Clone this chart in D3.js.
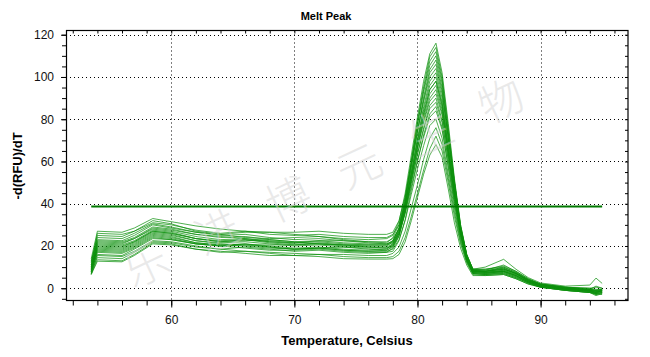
<!DOCTYPE html>
<html><head><meta charset="utf-8">
<script src="https://cdn.jsdelivr.net/npm/d3@7"></script>
<style>
html,body{margin:0;padding:0;background:#fff;}
svg{display:block;font-family:"Liberation Sans",Arial,sans-serif;}
</style></head>
<body><svg id="chart" width="650" height="357"></svg>
<script>
// ---- data ----
const chartTitle = "Melt Peak";
const xTitle = "Temperature, Celsius";
const yTitle = "-d(RFU)/dT";
const xMajorTicks = [60, 70, 80, 90];
const yMajorTicks = [0, 20, 40, 60, 80, 100, 120];
const thresholdValue = 38.7;
const thresholdRange = [53.5, 95];
const watermarkChars = ["乐", "进", "博", "元", "生", "物"];

const temps = [53.5, 54, 56, 57, 58.5, 60, 62, 64, 66, 68, 70, 72, 74, 76, 77.5, 78, 78.5, 79, 79.5, 80, 80.5, 81, 81.5, 82, 82.5, 83, 83.5, 84, 84.5, 85.5, 87, 88, 89, 90, 92, 94, 94.5, 95];

const well01 = [14, 27, 26.5, 28.5, 33, 31.5, 29.5, 28, 27, 26.5, 26.5, 27, 26, 25.5, 25.5, 26.5, 32, 43.5, 59, 74.5, 88.5, 100, 104, 92, 71.5, 50, 29, 16, 9, 9, 10, 7.5, 4, 2, 0.5, -0.5, -1, -0.5];
const well02 = [12, 26, 25.5, 27, 31, 30, 27.5, 26, 27, 25.5, 25, 25.5, 24.5, 24, 24, 25.5, 30, 40, 53.5, 66.5, 78.5, 88.5, 92, 82, 64, 45, 27, 15, 8.5, 8, 9, 7, 3.5, 1.5, 0, -1, -1.5, -1];
const well03 = [11, 25, 24.5, 27, 32, 30.5, 27, 25.5, 26.5, 26.5, 25.5, 24.5, 23.5, 23, 23.5, 25, 31.5, 45, 63, 81, 98, 111, 116, 102, 78, 52, 30, 16, 9, 8.5, 11, 8, 4.5, 2, 0.5, 0, -0.5, -0.5];
const well04 = [13, 24, 23.5, 26, 30.5, 29, 26.5, 25, 25.5, 24, 23, 23.5, 22.5, 22, 22, 23.5, 28, 37.5, 50.5, 63.5, 75, 85, 88, 78.5, 61, 43, 26, 14.5, 8, 7.5, 8.5, 6.5, 3.5, 1.5, 0, -1, -2, -1];
const well05 = [10, 23, 22.5, 25, 30, 28.5, 26.5, 25.5, 24, 23.5, 24, 24.5, 23, 22, 21.5, 24, 30, 43, 60, 77.5, 93, 105.5, 110, 97, 74, 50, 29, 15.5, 8.5, 8, 9.5, 7, 4, 2, 0.5, -0.5, 1, 0];
const well06 = [12.5, 22.5, 22, 24, 29, 28, 25.5, 24, 24.5, 23, 22, 22.5, 21.5, 21, 21, 22.5, 28, 39, 54, 69.5, 83, 94, 98, 87, 66.5, 46, 27, 14.5, 8, 7.5, 8, 6, 3, 1, -0.5, -1, -1.5, -1.5];
const well07 = [9, 22, 21.5, 23.5, 28.5, 27.5, 25.5, 24.5, 23.5, 22, 21.5, 22.5, 22.5, 21.5, 21, 22, 26.5, 35.5, 48, 60.5, 71.5, 81, 84, 75, 58, 41, 25, 14, 8, 8, 9, 7, 3.5, 1.5, 0, -0.5, -1, -1];
const well08 = [11, 21.5, 21, 23.5, 28, 27, 24.5, 23, 23.5, 22.5, 21.5, 22, 21, 20.5, 20.5, 22.5, 28.5, 41, 57.5, 74, 89, 102, 106, 93.5, 71, 48.5, 28, 15, 8.5, 8, 10, 7.5, 4, 1.5, 0, -1, -2.5, -1];
const well09 = [8, 21, 20.5, 22.5, 27.5, 26.5, 23.5, 22, 22.5, 23, 22, 21, 20.5, 20.5, 20.5, 21.5, 27, 39, 54.5, 70, 84.5, 96, 100, 88, 67, 46, 27, 14.5, 8, 7.5, 8.5, 6.5, 3.5, 1.5, 0, -1, -1.5, -2];
const well10 = [10, 20.5, 20, 22, 27, 26, 23.5, 22, 23, 21.5, 20.5, 21, 20, 19.5, 19.5, 21, 26, 37, 51.5, 66, 79.5, 90, 94, 83, 63, 44, 26, 14, 7.5, 7, 8, 6, 3, 1, -0.5, -1.5, -2, -1.5];
const well11 = [9.5, 20, 19.5, 22, 27, 26, 23.5, 22.5, 23, 22, 21, 21, 20.5, 20, 20, 22, 28.5, 42, 60.5, 79, 95.5, 109.5, 114, 100, 76, 51, 30, 16, 9, 9, 10.5, 8, 4.5, 2, 0.5, 0, 0.5, 0];
const well12 = [7.5, 19.5, 19, 21.5, 26.5, 25.5, 22.5, 21, 20.5, 20.5, 20.5, 21.5, 20.5, 19.5, 19, 20, 25, 35.5, 49.5, 63.5, 76, 86.5, 90, 79.5, 60.5, 42, 25, 13.5, 7.5, 7, 8, 6, 3, 1, -0.5, -1.5, -3, -2];
const well13 = [9, 19, 18.5, 21, 26, 25, 22.5, 21.5, 22, 21, 20, 20.5, 19.5, 19, 19, 20.5, 26, 38.5, 55, 71, 86, 98, 102, 90, 68, 47, 27.5, 14.5, 8, 8, 9, 7, 3.5, 1.5, 0, -0.5, -1, -0.5];
const well14 = [8.5, 18.5, 18, 20.5, 25.5, 24.5, 21.5, 20.5, 20, 19, 18.5, 19, 19.5, 18.5, 18, 19.5, 25, 36.5, 51.5, 67, 81, 92, 96, 84.5, 64, 44.5, 26, 14, 7.5, 7, 7.5, 5.5, 3, 1, -0.5, -1.5, -2.5, -2];
const well15 = [10.5, 18, 17.5, 20, 25, 24, 21.5, 20.5, 21, 19.5, 18.5, 19, 18, 17.5, 17.5, 18.5, 23, 32, 44.5, 56.5, 67.5, 77, 80, 71, 54, 38, 23, 13, 7, 6.5, 7.5, 5.5, 2.5, 1, -0.5, -1.5, -2, -1.5];
const well16 = [7, 17.5, 17, 19.5, 24.5, 23.5, 21, 20, 20.5, 19.5, 18.5, 19, 18, 17.5, 18, 20, 26, 39.5, 57, 74.5, 90.5, 103.5, 108, 95, 71, 48, 28, 15, 8.5, 8.5, 9.5, 7, 4, 1.5, 0, -1, -1, -1];
const well17 = [8, 17, 16.5, 19, 24, 23, 21, 20, 19, 18, 18, 18.5, 17.5, 17, 17, 17.5, 22.5, 32.5, 46.5, 60, 72.5, 82.5, 86, 76, 57, 40, 24, 13, 7, 6.5, 7, 5, 2.5, 0.5, -1, -2, -3, -2.5];
const well18 = [9, 16, 15.5, 18.5, 23.5, 23, 21, 20, 21, 20, 19, 19.5, 18.5, 18, 18.5, 21, 27.5, 41, 59, 77.5, 94, 107.5, 112, 98.5, 74, 50, 29, 15.5, 9, 10, 13.7, 9, 5, 2.5, 1, 1.5, 4.8, 2.3];
const well19 = [6.5, 15.5, 15, 17.5, 22.5, 22, 20, 18.5, 17.5, 17, 16.5, 16, 16, 15.5, 15.5, 16.5, 19.5, 27, 38, 49, 61, 71, 76, 68, 52, 36, 22, 12.5, 7, 6.5, 7, 5, 2.5, 0.5, -1, -2, -2.5, -3];
const well20 = [8, 14.5, 14, 17, 22, 21.5, 19.5, 18.5, 19.5, 18.5, 17.5, 18, 17, 16.5, 17, 19, 24.5, 36.5, 52, 68, 82, 94, 98, 86, 65, 45, 26.5, 14, 8, 7.5, 8, 6, 3, 1, -0.5, -1, -2, -1];
const well21 = [7, 13.5, 13, 16, 21.5, 21, 18.5, 17, 17.5, 16.5, 15.5, 16, 15, 14.5, 14.5, 15, 17.5, 24, 34, 45, 56, 66, 72, 65, 50, 34, 21, 12, 6.5, 6, 6.5, 4.5, 2, 0.5, -1, -2, -2.5, -2];
const well22 = [6.5, 12.8, 12.5, 15.5, 21, 20.5, 18.5, 17.5, 16.5, 15.5, 15.5, 15, 14, 13.8, 13.8, 14, 16, 22, 32, 43, 54, 63, 68, 62, 47, 31, 19, 11, 6, 6, 6.5, 4.5, 2, 0.5, -1, -2, -3.5, -2.5];

const wells = [well01, well02, well03, well04, well05, well06, well07, well08, well09, well10, well11,
               well12, well13, well14, well15, well16, well17, well18, well19, well20, well21, well22];

// ---- drawing ----
const svg = d3.select("#chart");
const L = 66, R = 628, T = 30.5, B = 300.5;
const x = d3.scaleLinear().domain([51.45, 97.1]).range([L, R]);
const y = d3.scaleLinear().domain([-5.8, 122]).range([B, T]);

const xMinor = d3.range(52, 97, 2);
const yMinor = d3.range(-5, 121, 5);

// grid
const grid = svg.append("g").attr("stroke", "#000").attr("stroke-width", 1)
  .attr("stroke-dasharray", "1,3");
grid.selectAll("line.gx").data(xMajorTicks).join("line")
  .attr("x1", d => Math.round(x(d)) + 0.5).attr("x2", d => Math.round(x(d)) + 0.5)
  .attr("y1", T).attr("y2", B);
grid.selectAll("line.gy").data(yMajorTicks).join("line")
  .attr("y1", d => Math.round(y(d)) + 0.5).attr("y2", d => Math.round(y(d)) + 0.5)
  .attr("x1", L).attr("x2", R);

// curves
const line = d3.line().x((d, i) => x(temps[i])).y(d => y(d));
svg.append("g").selectAll("path").data(wells).join("path")
  .attr("d", d => line(d))
  .attr("fill", "none").attr("stroke", "#0b8f0b").attr("stroke-width", 0.9)
  .attr("stroke-opacity", 0.8).attr("stroke-linejoin", "round");

// threshold
svg.append("line")
  .attr("x1", x(thresholdRange[0])).attr("x2", x(thresholdRange[1]))
  .attr("y1", y(thresholdValue)).attr("y2", y(thresholdValue))
  .attr("stroke", "#007800").attr("stroke-width", 2);

// frame
svg.append("rect").attr("x", L + 0.5).attr("y", T).attr("width", R - L - 0.5).attr("height", B - T)
  .attr("fill", "none").attr("stroke", "#000").attr("stroke-width", 1.2);

// axes
function styleAxis(g) { g.select(".domain").remove(); g.selectAll("line").attr("stroke", "#000"); }
const fontTick = g => g.selectAll("text").attr("font-size", 12).attr("fill", "#111")
  .attr("font-family", "'Liberation Sans', Arial, sans-serif");

svg.append("g").attr("transform", `translate(0,${B})`)
  .call(d3.axisBottom(x).tickValues(xMinor).tickSize(5).tickFormat(""))
  .call(styleAxis);
svg.append("g").attr("transform", `translate(0,${B})`)
  .call(d3.axisBottom(x).tickValues(xMajorTicks).tickSize(7).tickPadding(8).tickFormat(d3.format("d")))
  .call(styleAxis).call(fontTick);
svg.append("g").attr("transform", `translate(0,${T})`)
  .call(d3.axisBottom(x).tickValues(xMinor).tickSize(3).tickFormat(""))
  .call(styleAxis);

svg.append("g").attr("transform", `translate(${L},0)`)
  .call(d3.axisLeft(y).tickValues(yMinor).tickSize(4).tickFormat(""))
  .call(styleAxis);
svg.append("g").attr("transform", `translate(${L},0)`)
  .call(d3.axisLeft(y).tickValues(yMajorTicks).tickSize(5).tickPadding(7).tickFormat(d3.format("d")))
  .call(styleAxis).call(fontTick);
svg.append("g").attr("transform", `translate(${R},0)`)
  .call(d3.axisLeft(y).tickValues(yMinor).tickSize(3).tickFormat(""))
  .call(styleAxis);

// titles
svg.append("text").attr("x", 326).attr("y", 20).attr("text-anchor", "middle")
  .attr("font-size", 11).attr("font-weight", "bold").text(chartTitle);
svg.append("text").attr("x", (L + R) / 2).attr("y", 345).attr("text-anchor", "middle")
  .attr("font-size", 13).attr("font-weight", "bold").text(xTitle);
svg.append("text").attr("transform", "translate(22,166) rotate(-90)").attr("text-anchor", "middle")
  .attr("font-size", 13).attr("font-weight", "bold").text(yTitle);

// watermark
const wmX = d3.scaleLinear().domain([0, watermarkChars.length - 1]).range([145, 500]);
const wmY = d3.scaleLinear().domain([0, watermarkChars.length - 1]).range([262, 98]);
svg.append("g").selectAll("text").data(watermarkChars).join("text")
  .attr("transform", (d, i) => `translate(${wmX(i)},${wmY(i)}) rotate(-25)`)
  .attr("text-anchor", "middle").attr("dominant-baseline", "central")
  .attr("font-family", "'Noto Sans CJK SC', sans-serif").attr("font-size", 44).attr("font-weight", 300)
  .attr("fill", "#d4d4d4").attr("fill-opacity", 0.5)
  .text(d => d);
</script></body></html>
